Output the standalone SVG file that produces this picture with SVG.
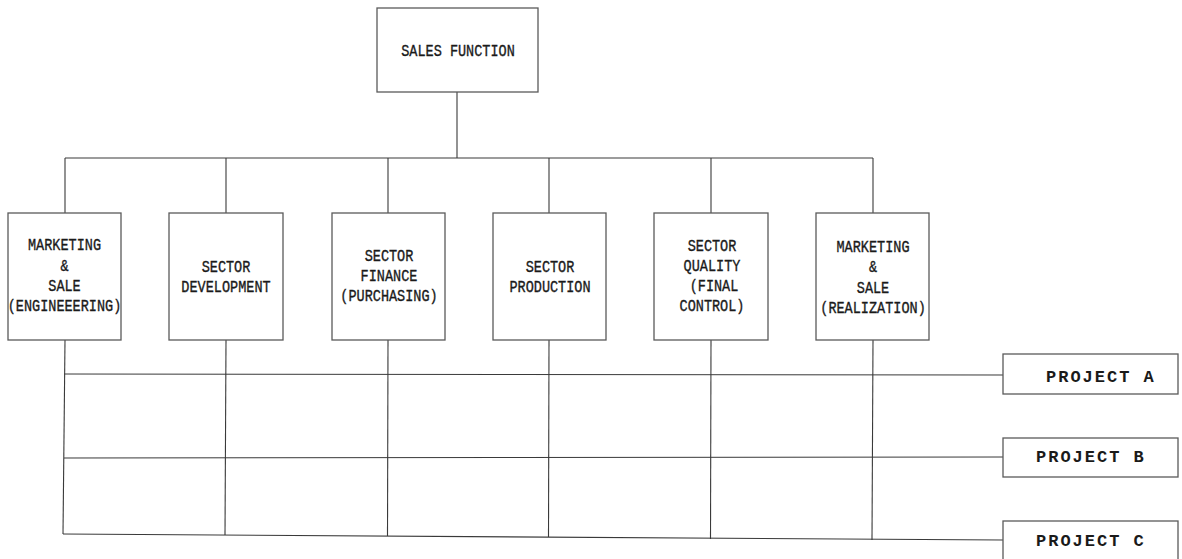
<svg xmlns="http://www.w3.org/2000/svg" width="1182" height="559" viewBox="0 0 1182 559">
  <style>
    .box { fill: #ffffff; stroke: #5a5a5a; stroke-width: 1.3; }
    .wire { fill: none; stroke: #3a3a3a; stroke-width: 1.1; }
    .lbl { font-family: "Courier New", "Nimbus Mono PS", "Liberation Mono", monospace; font-size: 16.5px; fill: #1a1a1a; stroke: #1a1a1a; stroke-width: 0.35px; text-anchor: middle; }
    .prj { font-family: "Courier New", "Nimbus Mono PS", "Liberation Mono", monospace; font-size: 17px; font-weight: bold; fill: #1a1a1a; letter-spacing: 2px; }
  </style>
  <rect width="1182" height="559" fill="#ffffff"/>

  <!-- connectors -->
  <g id="connectors" class="wire">
    <line x1="457" y1="92" x2="457" y2="158"/>
    <line x1="65" y1="158" x2="873" y2="158"/>
    <line x1="65" y1="158" x2="65" y2="213"/>
    <line x1="226" y1="158" x2="226" y2="213"/>
    <line x1="388" y1="158" x2="388" y2="213"/>
    <line x1="549" y1="158" x2="549" y2="213"/>
    <line x1="711" y1="158" x2="711" y2="213"/>
    <line x1="873" y1="158" x2="873" y2="213"/>
    <!-- matrix verticals -->
    <line x1="65" y1="340" x2="63" y2="534"/>
    <line x1="226" y1="340" x2="225" y2="535"/>
    <line x1="388" y1="340" x2="387.5" y2="536"/>
    <line x1="549" y1="340" x2="548.5" y2="537"/>
    <line x1="711" y1="340" x2="710.5" y2="539"/>
    <line x1="873" y1="340" x2="872" y2="540"/>
    <!-- project rows -->
    <line x1="64" y1="374" x2="1003" y2="375"/>
    <line x1="64" y1="458" x2="1003" y2="457"/>
    <line x1="63" y1="534" x2="1003" y2="540"/>
  </g>

  <g id="sales-function">
    <rect class="box" x="377" y="8" width="161" height="84"/>
    <text class="lbl" transform="translate(458,56) scale(0.82,1)">SALES FUNCTION</text>
  </g>

  <g id="marketing-engineering">
    <rect class="box" x="8" y="213" width="113" height="127"/>
    <text class="lbl" transform="translate(64.5,250) scale(0.82,1)">MARKETING</text>
    <text class="lbl" transform="translate(64.5,271) scale(0.82,1)">&amp;</text>
    <text class="lbl" transform="translate(64.5,291) scale(0.82,1)">SALE</text>
    <text class="lbl" transform="translate(64.5,311) scale(0.82,1)">(ENGINEEERING)</text>
  </g>

  <g id="sector-development">
    <rect class="box" x="169" y="213" width="114" height="127"/>
    <text class="lbl" transform="translate(226,272) scale(0.82,1)">SECTOR</text>
    <text class="lbl" transform="translate(226,292) scale(0.82,1)">DEVELOPMENT</text>
  </g>

  <g id="sector-finance">
    <rect class="box" x="332" y="213" width="113" height="127"/>
    <text class="lbl" transform="translate(389,261) scale(0.82,1)">SECTOR</text>
    <text class="lbl" transform="translate(389,281) scale(0.82,1)">FINANCE</text>
    <text class="lbl" transform="translate(389,301) scale(0.82,1)">(PURCHASING)</text>
  </g>

  <g id="sector-production">
    <rect class="box" x="493" y="213" width="113" height="127"/>
    <text class="lbl" transform="translate(550,272) scale(0.82,1)">SECTOR</text>
    <text class="lbl" transform="translate(550,292) scale(0.82,1)">PRODUCTION</text>
  </g>

  <g id="sector-quality">
    <rect class="box" x="654" y="213" width="114" height="127"/>
    <text class="lbl" transform="translate(712,251) scale(0.82,1)">SECTOR</text>
    <text class="lbl" transform="translate(712,271) scale(0.82,1)">QUALITY</text>
    <text class="lbl" transform="translate(714,291) scale(0.82,1)">(FINAL</text>
    <text class="lbl" transform="translate(712,311) scale(0.82,1)">CONTROL)</text>
  </g>

  <g id="marketing-realization">
    <rect class="box" x="816" y="213" width="113" height="127"/>
    <text class="lbl" transform="translate(873,252) scale(0.82,1)">MARKETING</text>
    <text class="lbl" transform="translate(873,272) scale(0.82,1)">&amp;</text>
    <text class="lbl" transform="translate(873,293) scale(0.82,1)">SALE</text>
    <text class="lbl" transform="translate(873,313) scale(0.82,1)">(REALIZATION)</text>
  </g>

  <g id="project-a">
    <rect class="box" x="1003" y="354" width="175" height="40"/>
    <text class="prj" x="1046" y="382">PROJECT A</text>
  </g>

  <g id="project-b">
    <rect class="box" x="1003" y="438" width="175" height="39"/>
    <text class="prj" x="1036" y="462">PROJECT B</text>
  </g>

  <g id="project-c">
    <rect class="box" x="1003" y="521" width="175" height="45"/>
    <text class="prj" x="1036" y="546">PROJECT C</text>
  </g>
</svg>
